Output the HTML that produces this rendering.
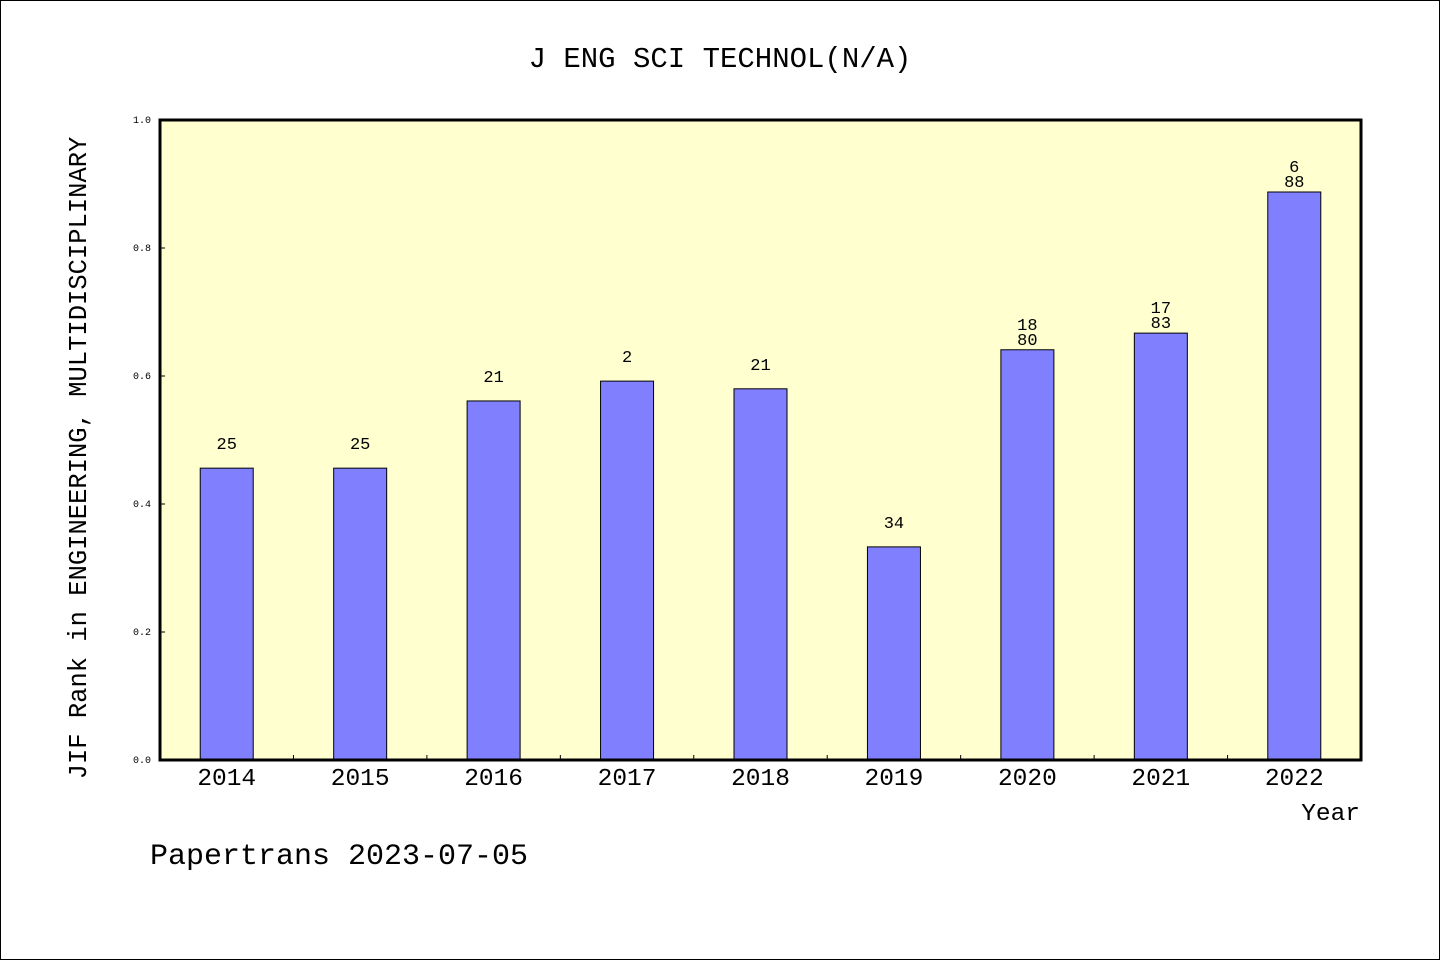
<!DOCTYPE html>
<html><head><meta charset="utf-8"><style>
html,body{margin:0;padding:0;background:#fff}
svg{display:block}
text{font-family:"Liberation Mono","DejaVu Sans Mono",monospace;fill:#000}
</style></head><body>
<svg id="chart" width="1440" height="960" xmlns="http://www.w3.org/2000/svg">
<rect x="0.5" y="0.5" width="1439" height="959" fill="#fff" stroke="#000"/>
<text x="720" y="67" font-size="29" text-anchor="middle">J ENG SCI TECHNOL(N/A)</text>
<rect x="160" y="120" width="1201" height="640" fill="#ffffd0"/>
<g id="bars"></g>
<g id="axes"></g>
<rect x="160" y="120" width="1201" height="640" fill="none" stroke="#000" stroke-width="3"/>
<text transform="translate(86,458) rotate(-90)" font-size="25.5" text-anchor="middle">JIF Rank in ENGINEERING, MULTIDISCIPLINARY</text>
<text x="1360" y="820" font-size="24.5" text-anchor="end">Year</text>
<text x="150" y="864" font-size="30">Papertrans 2023-07-05</text>
</svg>
<script>
const categories=["2014","2015","2016","2017","2018","2019","2020","2021","2022"];
const values=[0.456,0.456,0.561,0.592,0.580,0.333,0.641,0.667,0.8875];
const labelTop=["","","","","","","18","17","6"];
const labelBottom=["25","25","21","2","21","34","80","83","88"];
const yTicks=["0.0","0.2","0.4","0.6","0.8","1.0"];
const NS="http://www.w3.org/2000/svg";
const x0=160,x1=1361,y0=760,y1=120;
const bw=(x1-x0)/categories.length;
const xc=i=>x0+bw*(i+0.5);
const ys=v=>y0-(y0-y1)*v;
function mk(tag,attrs,parent){const e=document.createElementNS(NS,tag);for(const k in attrs)e.setAttribute(k,attrs[k]);parent.appendChild(e);return e;}
const gb=document.getElementById('bars'),ga=document.getElementById('axes');
values.forEach((v,i)=>{
  const r=mk('rect',{x:xc(i)-26.5,y:ys(v),width:53,height:y0-ys(v),fill:'#8080ff',stroke:'#000','stroke-width':1},gb);
  
  
  const isTwo=labelTop[i]!=="";
  const lb=mk('text',{x:xc(i),y:isTwo?ys(v)-5:ys(v)-19,'font-size':17,'text-anchor':'middle'},gb);
  lb.textContent=labelBottom[i];
  
  
  if(isTwo){
    const lt=mk('text',{x:xc(i),y:ys(v)-20,'font-size':17,'text-anchor':'middle'},gb);
    lt.textContent=labelTop[i];
    
    
  }
  const xl=mk('text',{x:xc(i),y:785,'font-size':24.5,'text-anchor':'middle'},ga);
  xl.textContent=categories[i];
  
  
  if(i>0){const t=mk('line',{x1:x0+bw*i,x2:x0+bw*i,y1:y0,y2:y0-5,stroke:'#000'},ga);
    
    }
});
yTicks.forEach(s=>{
  const y=ys(parseFloat(s));
  const t=mk('line',{x1:x0,x2:x0+5,y1:y,y2:y,stroke:'#000'},ga);
  
  
  const l=mk('text',{x:151,y:y+3,'font-size':10,'text-anchor':'end'},ga);
  l.textContent=s;
  
  
});
</script>
</body></html>
